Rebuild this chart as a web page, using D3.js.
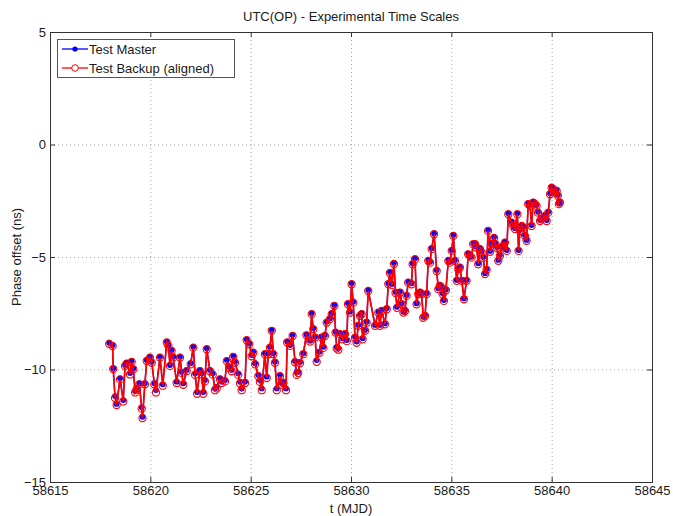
<!DOCTYPE html>
<html><head><meta charset="utf-8">
<script src="https://cdn.jsdelivr.net/npm/d3@7"></script>
<style>body{margin:0;background:#fff}svg{display:block}text{font-family:"Liberation Sans",Arial,sans-serif;fill:#1a1a1a}</style>
</head><body><svg id="c" width="673" height="516"></svg>
<script>
const title = "UTC(OP) - Experimental Time Scales";
const xLabel = "t (MJD)";
const yLabel = "Phase offset (ns)";
const seriesNames = ["Test Master", "Test Backup (aligned)"];
const xTicks = [58615, 58620, 58625, 58630, 58635, 58640, 58645];
const yTicks = [-15, -10, -5, 0, 5];

const mjd = [58617.95,58618.12,58618.15,58618.24,58618.32,58618.49,58618.65,58618.74,58618.82,58618.99,
58619.07,58619.15,58619.24,58619.32,58619.45,58619.57,58619.61,58619.73,58619.82,58619.98,
58620.07,58620.20,58620.28,58620.48,58620.62,58620.82,58620.90,58620.98,58621.06,58621.14,
58621.31,58621.48,58621.56,58621.64,58621.81,58622.01,58622.14,58622.23,58622.33,58622.47,
58622.56,58622.64,58622.72,58622.81,58622.97,58623.11,58623.22,58623.31,58623.47,58623.56,
58623.72,58623.81,58623.93,58624.05,58624.13,58624.22,58624.38,58624.47,58624.55,58624.72,
58624.80,58624.93,58625.05,58625.13,58625.22,58625.38,58625.46,58625.55,58625.71,58625.80,
58625.88,58625.96,58626.05,58626.13,58626.21,58626.30,58626.46,58626.55,58626.63,58626.76,
58626.82,58626.96,58627.09,58627.21,58627.29,58627.37,58627.46,58627.62,58627.78,58627.96,
58628.04,58628.12,58628.21,58628.29,58628.42,58628.54,58628.62,58628.70,58628.79,58628.95,
58629.04,58629.17,58629.23,58629.29,58629.37,58629.45,58629.59,58629.70,58629.79,58629.85,
58629.95,58630.03,58630.11,58630.20,58630.28,58630.36,58630.45,58630.53,58630.58,58630.70,
58630.78,58630.86,58631.20,58631.36,58631.44,58631.53,58631.69,58631.78,58631.86,58631.94,
58632.04,58632.14,58632.22,58632.29,58632.44,58632.53,58632.61,58632.69,58632.77,58632.85,
58633.02,58633.07,58633.19,58633.27,58633.35,58633.44,58633.52,58633.60,58633.69,58633.77,
58633.85,58633.94,58634.02,58634.14,58634.27,58634.35,58634.43,58634.52,58634.57,58634.63,
58634.73,58634.85,58634.93,58635.02,58635.10,58635.18,58635.27,58635.35,58635.43,58635.52,
58635.63,58635.76,58635.84,58635.93,58636.01,58636.09,58636.18,58636.26,58636.34,58636.43,
58636.51,58636.59,58636.68,58636.76,58636.83,58636.93,58637.03,58637.13,58637.20,58637.28,
58637.34,58637.42,58637.51,58637.59,58637.67,58637.76,58637.84,58638.01,58638.09,58638.17,
58638.29,58638.35,58638.42,58638.51,58638.59,58638.67,58638.75,58638.83,58638.92,58639.00,
58639.08,58639.17,58639.25,58639.32,58639.42,58639.50,58639.58,58639.67,58639.75,58639.83,
58639.92,58640.00,58640.08,58640.17,58640.25,58640.31,58640.36,58640.41];

const master = [-8.81,-8.91,-9.95,-11.18,-11.53,-10.39,-11.36,-9.80,-9.70,-10.16,
-9.62,-9.95,-10.96,-10.82,-10.61,-11.68,-12.10,-10.61,-9.58,-9.43,
-9.65,-10.61,-10.91,-9.43,-10.66,-8.76,-8.91,-9.80,-9.13,-9.43,
-10.54,-9.43,-10.10,-10.61,-10.02,-9.72,-8.99,-10.17,-11.00,-10.02,
-10.17,-11.00,-10.47,-9.06,-10.02,-10.17,-10.84,-10.76,-10.39,-10.54,
-10.47,-9.58,-9.88,-10.02,-9.40,-9.65,-10.17,-10.54,-10.84,-10.54,
-8.66,-8.84,-9.36,-9.21,-9.72,-10.24,-10.47,-10.84,-9.28,-10.32,
-9.28,-8.99,-8.24,-9.28,-9.65,-10.84,-10.24,-10.61,-10.54,-10.84,
-8.76,-8.91,-8.47,-9.62,-10.11,-10.10,-9.67,-9.28,-8.44,-8.72,
-7.50,-8.17,-8.54,-9.58,-9.21,-8.54,-8.99,-8.47,-7.88,-7.72,
-7.50,-7.13,-8.32,-8.99,-9.06,-8.39,-8.61,-8.39,-8.69,-7.06,
-7.43,-6.17,-6.99,-8.54,-8.76,-8.02,-7.58,-7.50,-8.61,-8.24,
-7.88,-6.47,-8.02,-7.43,-8.02,-7.36,-7.95,-7.28,-6.17,-5.67,
-6.20,-5.27,-6.56,-7.21,-6.54,-7.06,-7.43,-7.36,-6.69,-6.10,
-6.17,-5.28,-5.06,-7.06,-6.61,-6.54,-6.61,-7.65,-7.58,-6.61,
-5.13,-5.21,-4.61,-3.95,-5.58,-6.39,-6.24,-6.32,-6.61,-6.91,
-6.44,-5.13,-5.21,-4.69,-4.02,-5.13,-6.02,-5.50,-5.43,-6.02,
-6.84,-6.02,-4.84,-4.91,-4.99,-4.39,-4.39,-4.54,-5.28,-4.61,
-4.76,-5.00,-5.72,-5.53,-3.80,-4.73,-4.38,-4.11,-4.39,-4.56,
-5.13,-4.91,-4.54,-4.47,-4.32,-4.69,-3.06,-3.43,-3.58,-3.72,
-3.06,-4.69,-3.80,-3.58,-3.65,-4.02,-4.24,-2.61,-2.69,-3.58,
-2.54,-2.61,-2.69,-2.99,-3.36,-3.28,-3.21,-3.13,-3.36,-2.99,
-2.17,-1.88,-1.95,-2.10,-2.02,-2.24,-2.61,-2.54];

const backup = [-8.86,-8.96,-9.98,-11.27,-11.58,-10.44,-11.42,-9.84,-9.74,-10.22,
-9.66,-9.99,-11.02,-10.88,-10.66,-11.74,-12.16,-10.66,-9.62,-9.47,
-9.70,-10.66,-11.02,-9.47,-10.72,-8.80,-8.95,-9.84,-9.18,-9.47,
-10.60,-9.47,-10.15,-10.68,-10.07,-9.77,-9.03,-10.24,-11.08,-10.07,
-10.22,-11.08,-10.53,-9.10,-10.08,-10.23,-10.92,-10.84,-10.44,-10.60,
-10.53,-9.63,-9.93,-10.08,-9.44,-9.70,-10.24,-10.62,-10.92,-10.60,
-8.70,-8.88,-9.41,-9.25,-9.77,-10.30,-10.55,-10.92,-9.32,-10.38,
-9.32,-9.03,-8.28,-9.32,-9.70,-10.92,-10.30,-10.67,-10.60,-10.92,
-8.80,-8.95,-8.51,-9.68,-10.24,-10.16,-9.72,-9.32,-8.48,-8.76,
-7.54,-8.21,-8.58,-9.66,-9.26,-8.58,-9.04,-8.51,-7.92,-7.76,
-7.54,-7.17,-8.36,-9.06,-9.12,-8.43,-8.66,-8.43,-8.74,-7.10,
-7.47,-6.21,-7.03,-8.59,-8.81,-8.06,-7.62,-7.54,-8.66,-8.28,
-7.92,-6.51,-8.06,-7.47,-8.06,-7.40,-7.99,-7.32,-6.21,-5.71,
-6.24,-5.31,-6.60,-7.26,-6.58,-7.10,-7.47,-7.40,-6.73,-6.14,
-6.21,-5.32,-5.10,-7.10,-6.65,-6.58,-6.65,-7.70,-7.62,-6.65,
-5.17,-5.25,-4.65,-3.99,-5.62,-6.43,-6.28,-6.36,-6.65,-6.95,
-6.48,-5.17,-5.25,-4.73,-4.06,-5.17,-6.06,-5.54,-5.47,-6.06,
-6.88,-6.06,-4.88,-4.95,-5.03,-4.43,-4.43,-4.58,-5.32,-4.65,
-4.80,-5.04,-5.76,-5.57,-3.84,-4.77,-4.42,-4.15,-4.43,-4.60,
-5.17,-4.95,-4.58,-4.51,-4.36,-4.73,-3.10,-3.47,-3.62,-3.76,
-3.10,-4.73,-3.84,-3.62,-3.69,-4.06,-4.28,-2.65,-2.73,-3.62,
-2.58,-2.65,-2.73,-3.03,-3.40,-3.32,-3.25,-3.17,-3.40,-3.03,
-2.21,-1.92,-1.99,-2.14,-2.06,-2.28,-2.65,-2.58];

const svg = d3.select("#c");
const L = 50, R = 652, T = 32, B = 482;
const x = d3.scaleLinear().domain([58615, 58645]).range([L, R]);
const y = d3.scaleLinear().domain([-15, 5]).range([B, T]);

svg.append("rect").attr("width",673).attr("height",516).attr("fill","#fff");
svg.append("rect").attr("x",L).attr("y",T).attr("width",R-L).attr("height",B-T).attr("fill","#fff");

// grid
const g = svg.append("g");
g.selectAll(".gx").data(xTicks.slice(1,-1)).join("line")
  .attr("x1",d=>x(d)+0.5).attr("x2",d=>x(d)+0.5).attr("y1",T).attr("y2",B)
  .attr("stroke","#a0a0a0").attr("stroke-width",1).attr("stroke-dasharray","1,3");
g.selectAll(".gy").data(yTicks.slice(1,-1)).join("line")
  .attr("y1",d=>y(d)+0.5).attr("y2",d=>y(d)+0.5).attr("x1",L).attr("x2",R)
  .attr("stroke","#a0a0a0").attr("stroke-width",1).attr("stroke-dasharray","1,3");

// axes
const axCol = "#333";
const xb = svg.append("g").attr("transform",`translate(0,${B})`)
  .call(d3.axisBottom(x).tickValues(xTicks).tickFormat(d3.format("d")).tickSize(-5).tickPadding(4));
const xt = svg.append("g").attr("transform",`translate(0,${T})`)
  .call(d3.axisTop(x).tickValues(xTicks).tickFormat("").tickSize(-5));
const yl = svg.append("g").attr("transform",`translate(${L},0)`)
  .call(d3.axisLeft(y).tickValues(yTicks).tickFormat(d3.format("d")).tickSize(-5).tickPadding(4));
const yr = svg.append("g").attr("transform",`translate(${R},0)`)
  .call(d3.axisRight(y).tickValues(yTicks).tickFormat("").tickSize(-5));
[xb,xt,yl,yr].forEach(a=>{
  a.selectAll("path").attr("stroke",axCol);
  a.selectAll("line").attr("stroke",axCol);
  a.selectAll("text").attr("font-size","13px").attr("fill","#1a1a1a")
    .attr("font-family",'"Liberation Sans",Arial,sans-serif');
});
xb.selectAll("text").attr("dy","0.71em");

// data lines
const ptsM = mjd.map((t,i)=>[t, master[i]]);
const ptsB = mjd.map((t,i)=>[t, backup[i]]);
const line = d3.line().x(d=>x(d[0])).y(d=>y(d[1]));
svg.append("path").attr("d",line(ptsM)).attr("fill","none").attr("stroke","#0000ff").attr("stroke-width",1.3);
svg.selectAll(".dm").data(ptsM).join("circle")
  .attr("cx",d=>x(d[0])).attr("cy",d=>y(d[1])).attr("r",2.9).attr("fill","#0000ff");
svg.append("path").attr("d",line(ptsB)).attr("fill","none").attr("stroke","#ff0000").attr("stroke-width",1.7);
svg.selectAll(".db").data(ptsB).join("circle")
  .attr("cx",d=>x(d[0])).attr("cy",d=>y(d[1])).attr("r",3.6).attr("fill","none")
  .attr("stroke","#ff0000").attr("stroke-width",1.1);

// titles
svg.append("text").attr("x",(L+R)/2).attr("y",21).attr("text-anchor","middle").attr("font-size","13px").text(title);
svg.append("text").attr("x",(L+R)/2).attr("y",513).attr("text-anchor","middle").attr("font-size","13px").text(xLabel);
svg.append("text").attr("transform",`translate(21,${(T+B)/2}) rotate(-90)`).attr("text-anchor","middle").attr("font-size","13px").text(yLabel);

// legend
const lg = svg.append("g");
lg.append("rect").attr("x",57.5).attr("y",39.5).attr("width",177).attr("height",38)
  .attr("fill","#fff").attr("stroke","#555").attr("stroke-width",1);
const cols = ["#0000ff","#ff0000"];
seriesNames.forEach((n,i)=>{
  const yy = 49 + i*19;
  lg.append("line").attr("x1",62).attr("x2",88).attr("y1",yy).attr("y2",yy).attr("stroke",cols[i]).attr("stroke-width",1.3);
  if(i===0) lg.append("circle").attr("cx",75).attr("cy",yy).attr("r",2.6).attr("fill",cols[i]);
  else lg.append("circle").attr("cx",75).attr("cy",yy).attr("r",3.3).attr("fill","#fff").attr("stroke",cols[i]);
  lg.append("text").attr("x",89).attr("y",yy+4.5).attr("font-size","13px").text(n);
});
</script></body></html>
